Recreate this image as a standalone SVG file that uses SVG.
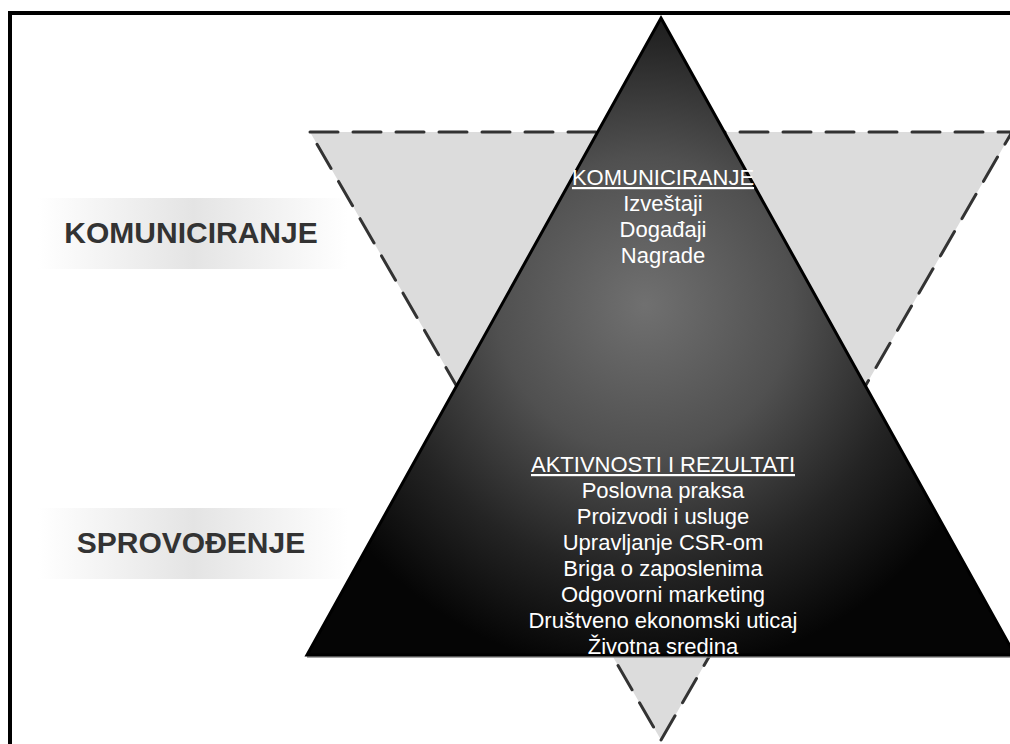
<svg xmlns="http://www.w3.org/2000/svg" width="1010" height="744" viewBox="0 0 1010 744">
  <defs>
    <linearGradient id="band" x1="0" y1="0" x2="1" y2="0">
      <stop offset="0" stop-color="#ffffff"/>
      <stop offset="0.5" stop-color="#e4e4e4"/>
      <stop offset="1" stop-color="#ffffff"/>
    </linearGradient>
    <radialGradient id="dark" gradientUnits="userSpaceOnUse" cx="645" cy="305" r="370">
      <stop offset="0" stop-color="#707070"/>
      <stop offset="0.4" stop-color="#505050"/>
      <stop offset="0.72" stop-color="#242424"/>
      <stop offset="1" stop-color="#050505"/>
    </radialGradient>
    <style>
      .band-label { font-family: "Liberation Sans", Arial, sans-serif; font-size: 30px; font-weight: bold; fill: #333333; text-anchor: middle; }
      .inner { font-family: "Liberation Sans", Arial, sans-serif; font-size: 22px; fill: #ffffff; text-anchor: middle; }
      .head { text-decoration: underline; }
      .dashed { fill: #dcdcdc; stroke: #333333; stroke-width: 3; stroke-dasharray: 28 15; stroke-linecap: round; stroke-linejoin: round; }
    </style>
  </defs>

  <!-- outer frame -->
  <rect x="10" y="13" width="1010" height="740" fill="#ffffff" stroke="#000000" stroke-width="4"/>

  <!-- stage labels on the left -->
  <g id="label-komuniciranje">
    <rect x="38" y="198" width="310" height="71" fill="url(#band)"/>
    <text class="band-label" x="191" y="243">KOMUNICIRANJE</text>
  </g>
  <g id="label-sprovodjenje">
    <rect x="38" y="508" width="310" height="71" fill="url(#band)"/>
    <text class="band-label" x="191" y="553">SPROVOĐENJE</text>
  </g>

  <!-- inverted dashed triangle -->
  <g id="triangle-down">
    <polygon class="dashed" points="310,132 1012,132 661,740"/>
  </g>

  <!-- solid upward triangle -->
  <g id="triangle-up">
    <line x1="307" y1="657" x2="1015" y2="657" stroke="#8a8a8a" stroke-width="1.5"/>
    <polygon points="661,18 1015,655 307,655" fill="url(#dark)" stroke="#000000" stroke-width="3" stroke-linejoin="miter"/>
  </g>

  <!-- communication contents -->
  <g id="node-komuniciranje">
    <text class="inner head" x="663" y="185">KOMUNICIRANJE</text>
    <text class="inner" x="663" y="211">Izveštaji</text>
    <text class="inner" x="663" y="237">Događaji</text>
    <text class="inner" x="663" y="263">Nagrade</text>
  </g>

  <!-- activities and results -->
  <g id="node-aktivnosti">
    <text class="inner head" x="663" y="472">AKTIVNOSTI I REZULTATI</text>
    <text class="inner" x="663" y="498">Poslovna praksa</text>
    <text class="inner" x="663" y="524">Proizvodi i usluge</text>
    <text class="inner" x="663" y="550">Upravljanje CSR-om</text>
    <text class="inner" x="663" y="576">Briga o zaposlenima</text>
    <text class="inner" x="663" y="602">Odgovorni marketing</text>
    <text class="inner" x="663" y="628">Društveno ekonomski uticaj</text>
    <text class="inner" x="663" y="654">Životna sredina</text>
  </g>

  <!-- connectors: none -->
  <g id="connectors"/>
</svg>
